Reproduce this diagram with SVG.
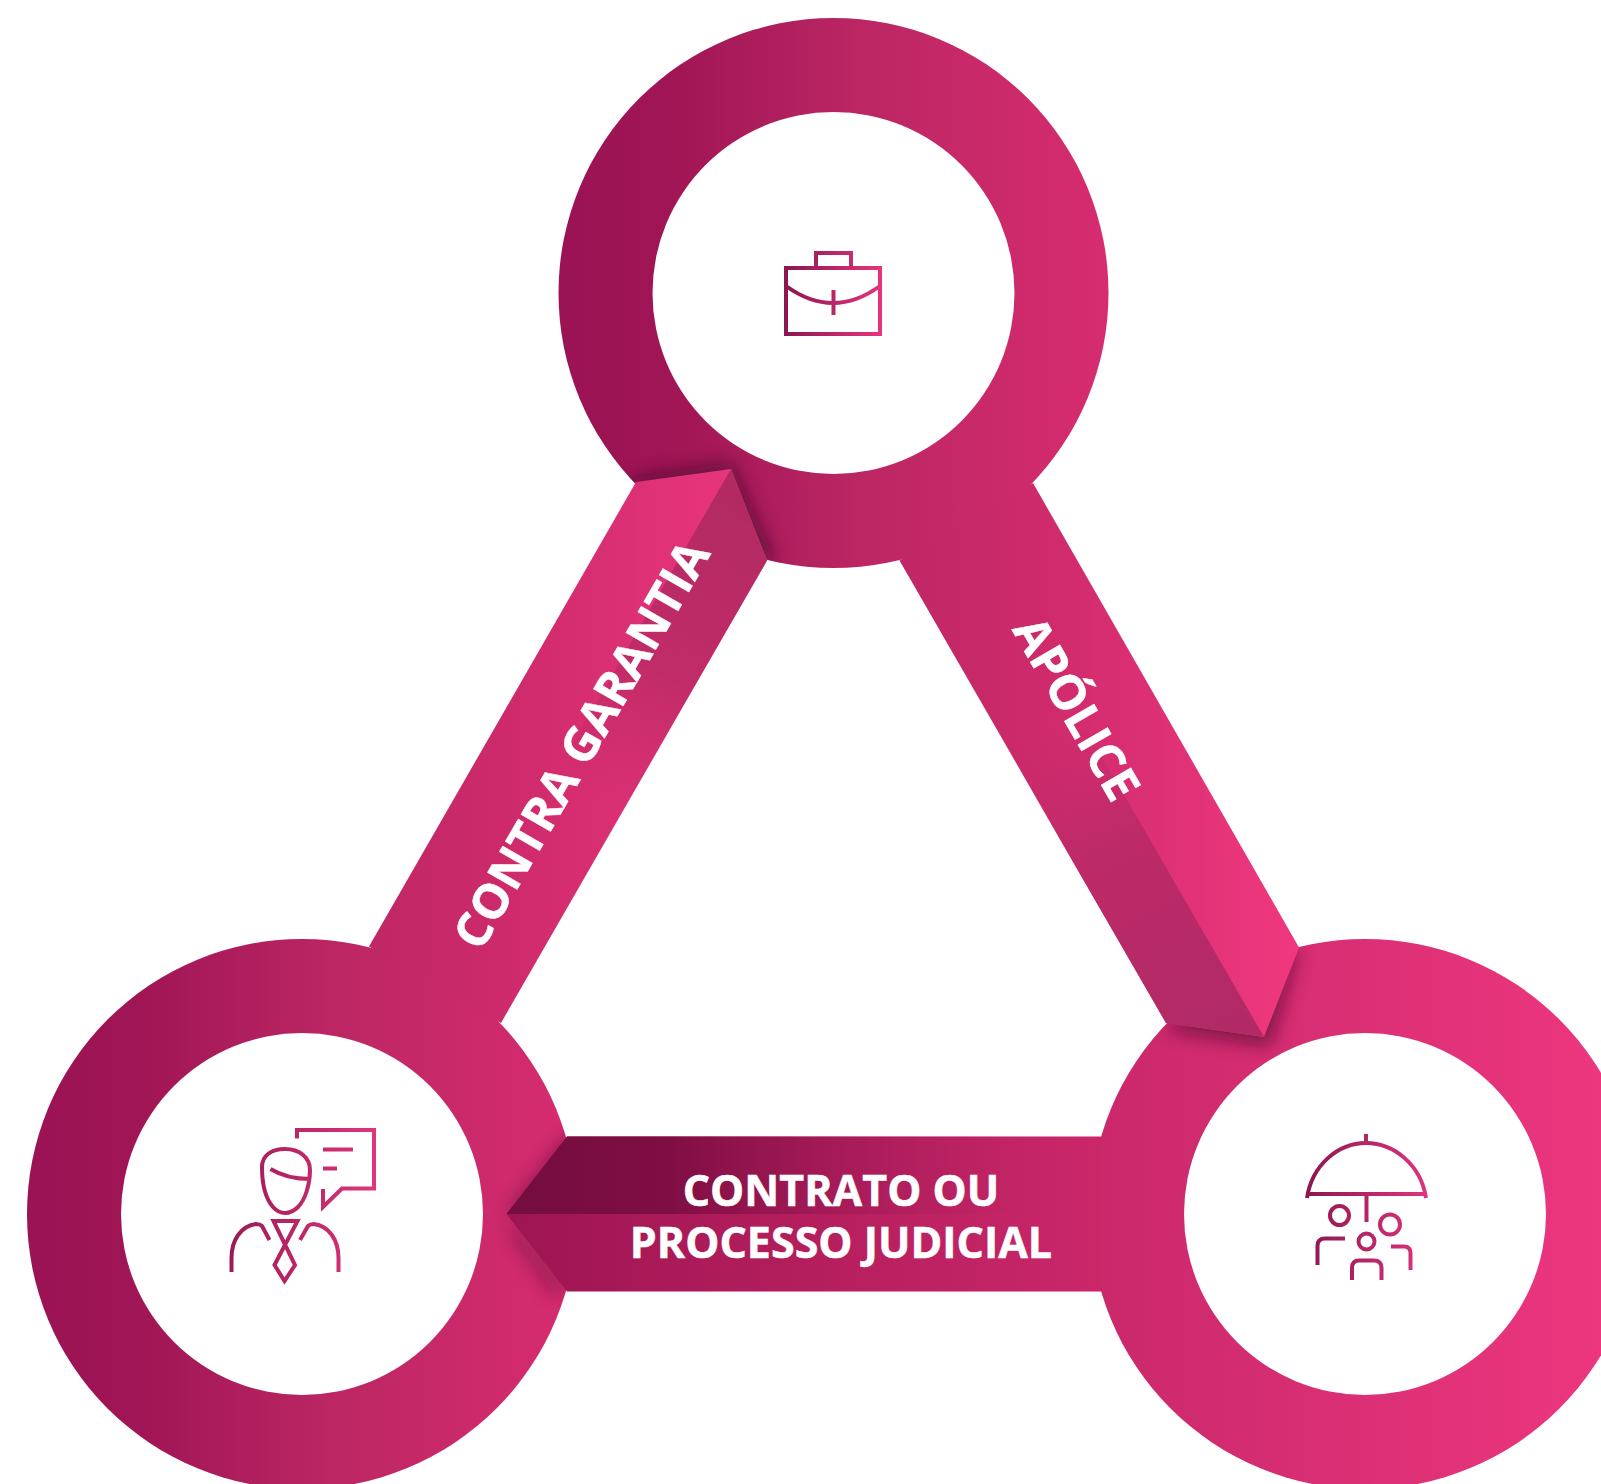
<svg xmlns="http://www.w3.org/2000/svg" width="1601" height="1484" viewBox="0 0 1601 1484">
<style>
.hole{fill:#fff}
.ic{fill:none;stroke-width:4;stroke-linecap:butt;stroke-linejoin:miter}
.lb{font-family:"Open Sans","Noto Sans",sans-serif;font-weight:700;fill:#fff;text-anchor:middle;stroke:#fff;stroke-width:.5}
</style>
<defs>
<linearGradient id="ringA" gradientUnits="objectBoundingBox" x1="0" y1="0" x2="1" y2="0"><stop offset="0" stop-color="#9a1354"/><stop offset=".2" stop-color="#a01555"/><stop offset=".55" stop-color="#bb2663"/><stop offset="1" stop-color="#d72c70"/></linearGradient>
<linearGradient id="ringB" gradientUnits="objectBoundingBox" x1="0" y1="0" x2="1" y2="0"><stop offset="0" stop-color="#c9286a"/><stop offset="1" stop-color="#ef3780"/></linearGradient>
<linearGradient id="bandL" gradientUnits="userSpaceOnUse" x1="369" y1="0" x2="731" y2="0"><stop offset="0" stop-color="#bf2765"/><stop offset=".365" stop-color="#cd2a6b"/><stop offset="1" stop-color="#e8357c"/></linearGradient>
<linearGradient id="sideL" gradientUnits="userSpaceOnUse" x1="749" y1="515" x2="584" y2="800"><stop offset="0" stop-color="#b32a63"/><stop offset=".55" stop-color="#bd2b66" stop-opacity=".9"/><stop offset="1" stop-color="#c52a69" stop-opacity="0"/></linearGradient>
<linearGradient id="bandR" gradientUnits="userSpaceOnUse" x1="899" y1="0" x2="1299" y2="0"><stop offset="0" stop-color="#bf2765"/><stop offset=".335" stop-color="#cd2a6b"/><stop offset="1" stop-color="#f0387f"/></linearGradient>
<linearGradient id="sideR" gradientUnits="userSpaceOnUse" x1="1215" y1="1030" x2="1040" y2="727"><stop offset="0" stop-color="#b12a66"/><stop offset=".6" stop-color="#bb2a67" stop-opacity=".95"/><stop offset="1" stop-color="#c4296a" stop-opacity="0"/></linearGradient>
<linearGradient id="bandB" gradientUnits="userSpaceOnUse" x1="507" y1="0" x2="1103" y2="0"><stop offset="0" stop-color="#9e1551"/><stop offset="1" stop-color="#ca2769"/></linearGradient>
<linearGradient id="faceB" gradientUnits="userSpaceOnUse" x1="507" y1="0" x2="1050" y2="0"><stop offset="0" stop-color="#740d3e"/><stop offset=".3" stop-color="#7f0e43"/><stop offset="1" stop-color="#b82364" stop-opacity="0"/></linearGradient>
<linearGradient id="icon1" gradientUnits="userSpaceOnUse" x1="784" y1="0" x2="883" y2="0"><stop offset="0" stop-color="#8b1650"/><stop offset="1" stop-color="#e8357c"/></linearGradient>
<linearGradient id="icon2" gradientUnits="userSpaceOnUse" x1="230" y1="0" x2="376" y2="0"><stop offset="0" stop-color="#9b1a55"/><stop offset="1" stop-color="#e0357a"/></linearGradient>
<linearGradient id="icon3" gradientUnits="userSpaceOnUse" x1="1305" y1="0" x2="1428" y2="0"><stop offset="0" stop-color="#8b1650"/><stop offset="1" stop-color="#e0357a"/></linearGradient>
<filter id="soft" x="-40%" y="-40%" width="180%" height="180%"><feGaussianBlur stdDeviation="9"/></filter>
<clipPath id="cT"><circle cx="833.5" cy="293" r="275"/></clipPath>
<clipPath id="cL"><circle cx="302" cy="1214" r="275"/></clipPath>
<clipPath id="cR"><circle cx="1365" cy="1214" r="275"/></clipPath>
</defs>
<rect width="1601" height="1484" fill="#fff"/>
<g id="node-top"><circle cx="833.5" cy="293" r="275" fill="url(#ringA)"/></g>
<g id="node-left"><circle cx="302" cy="1214" r="275" fill="url(#ringA)"/></g>
<g id="node-right"><circle cx="1365" cy="1214" r="275" fill="url(#ringB)"/></g>
<g id="connectors">
<g clip-path="url(#cT)"><polygon points="636,478 731,462 776,562 700,560 610,500" fill="#4e0830" opacity=".75" filter="url(#soft)"/></g>
<polygon points="369,946.5 636,482 731,469 767,560.5 501,1023" fill="url(#bandL)"/>
<polygon points="731,469 767,560.500 602,846 566,755" fill="url(#sideL)"/>
<g clip-path="url(#cR)"><polygon points="1299,947 1270,1046 1166,1030 1200,1000" fill="#5a0a35" opacity=".7" filter="url(#soft)"/></g>
<polygon points="1033,483 1299,947.5 1264,1037 1166,1023 899.5,560.5" fill="url(#bandR)"/>
<polygon points="1264,1037 1166,1023 991,720 1089,734" fill="url(#sideR)"/>
<g clip-path="url(#cL)"><polygon points="520,1226 567,1289 555,1296 510,1232" fill="#4e0830" opacity=".5" filter="url(#soft)"/><polygon points="507,1214 567,1136 590,1136 540,1214" fill="#4e0830" opacity=".55" filter="url(#soft)"/></g>
<polygon points="567,1136.5 1103,1136.5 1103,1291.5 567,1291.5 506.5,1214" fill="url(#bandB)"/>
<polygon points="567,1136.5 1050,1136.5 1050,1214 506.5,1214" fill="url(#faceB)"/>
</g>
<circle class="hole" cx="833.5" cy="293" r="181"/>
<circle class="hole" cx="302" cy="1214" r="181"/>
<circle class="hole" cx="1365" cy="1214" r="181"/>
<g id="icon-briefcase" class="ic" stroke="url(#icon1)">
<rect x="786" y="268" width="94" height="66"/>
<path d="M816 268V253H851V268"/>
<path d="M786 286Q833 320 880 286"/>
<path d="M833.5 290V315"/>
</g>
<g id="icon-person" class="ic" stroke="url(#icon2)">
<path d="M297 1138.5V1130H374V1188.5H342L323 1207V1189"/>
<path d="M323 1149.5H353M323 1168.5H337"/>
<path d="M262 1167C262 1155 272 1149 285 1149C300 1149 310 1158 310 1170C310 1185 305 1200 298 1207C290 1215 280 1215 273 1207C266 1199 262 1185 262 1167Z"/>
<path d="M270.500 1169C282 1176 296 1179 310 1179"/>
<path d="M231.500 1272V1258C231.500 1240 241 1226 256 1224C259 1224 261 1225 262 1226L269.500 1240"/>
<path d="M338.500 1272V1258C338.500 1240 329 1226 314 1224C311 1224 309 1225 308 1226L300 1240"/>
<path d="M273.500 1221H297.500L274.500 1265L284.500 1281L295 1265L273.500 1221Z"/>
</g>
<g id="icon-umbrella" class="ic" stroke="url(#icon3)">
<path d="M1366 1134V1143"/>
<path d="M1307 1198C1312 1165 1338 1143 1366 1143C1394 1143 1421 1165 1426 1198"/>
<path d="M1308 1194H1425M1366.500 1194V1222"/>
<circle cx="1339.500" cy="1215.500" r="9.500"/>
<circle cx="1390" cy="1224.500" r="10"/>
<circle cx="1366.500" cy="1241.500" r="8"/>
<path d="M1317.500 1265V1246Q1317.500 1238.500 1325 1238.500H1345"/>
<path d="M1391 1246.500H1404Q1410.500 1246.500 1410.500 1253V1270"/>
<path d="M1352 1280V1268Q1352 1260.500 1359 1260.500H1374Q1381.500 1260.500 1381.500 1268V1280"/>
</g>
<text class="lb" font-size="48" transform="translate(596 753) rotate(-60)">CONTRA GARANTIA</text>
<text class="lb" font-size="48" transform="translate(1062 717) rotate(60)">APÓLICE</text>
<text class="lb" font-size="43"><tspan x="841" y="1206">CONTRATO OU</tspan><tspan x="841" y="1258">PROCESSO JUDICIAL</tspan></text>
</svg>
